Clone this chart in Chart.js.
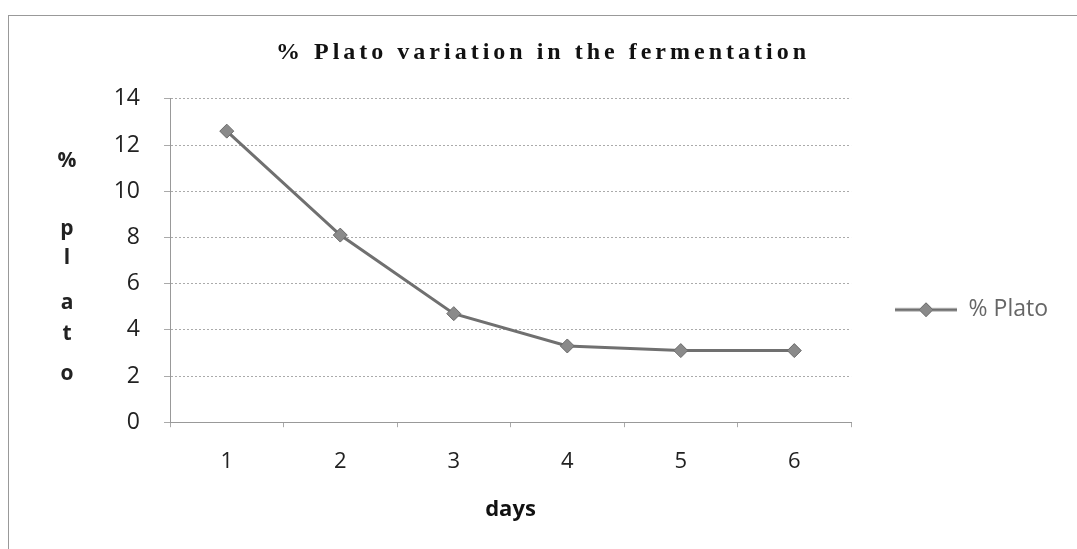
<!DOCTYPE html>
<html lang="en">
    <head>
        <meta charset="UTF-8">
        <title>% Plato variation in the fermentation</title>
        <script src="https://cdn.jsdelivr.net/npm/chart.js"></script>
        <style>
            body { margin: 0; background: #fff; }
            #frame {
                position: absolute; left: 8px; top: 15px;
                width: 1069px; height: 534px;
                border-left: 1px solid #999; border-top: 1px solid #999;
            }
        </style>
    </head>
    <body>
        <div id="frame"><canvas id="platoChart" width="1069" height="534"></canvas></div>

        <script>
            const days = ['1', '2', '3', '4', '5', '6'];
            const plato = [12.6, 8.1, 4.7, 3.3, 3.1, 3.1];
            const yLetters = ['%', 'p', 'l', 'a', 't', 'o'];

            // legend sample: line with a diamond in the middle
            const legendIcon = document.createElement('canvas');
            legendIcon.width = 62; legendIcon.height = 16;
            const ic = legendIcon.getContext('2d');
            ic.strokeStyle = '#707070'; ic.lineWidth = 3;
            ic.beginPath(); ic.moveTo(0, 8); ic.lineTo(62, 8); ic.stroke();
            ic.fillStyle = '#8a8a8a'; ic.strokeStyle = '#6a6a6a'; ic.lineWidth = 1;
            ic.beginPath(); ic.moveTo(31, 1); ic.lineTo(38, 8); ic.lineTo(31, 15); ic.lineTo(24, 8); ic.closePath();
            ic.fill(); ic.stroke();

            // y axis title written as a column of letters
            const stackedYTitle = {
                id: 'stackedYTitle',
                afterDraw(chart) {
                    const c = chart.ctx;
                    c.save();
                    c.font = 'bold 21px "Open Sans"';
                    c.fillStyle = '#222';
                    c.textAlign = 'center';
                    c.textBaseline = 'middle';
                    const ys = [145, 213, 242, 287, 318, 358];
                    yLetters.forEach((l, i) => c.fillText(l, 58, ys[i]));
                    c.restore();
                }
            };

            // wider letter spacing for the chart title
            const spacedTitle = {
                id: 'spacedTitle',
                beforeDraw(chart) {
                    const tb = chart.titleBlock;
                    if (!tb || tb._spaced) return;
                    const orig = tb.draw.bind(tb);
                    tb.draw = function (area) {
                        const c = chart.ctx;
                        const prev = c.letterSpacing;
                        c.letterSpacing = '4px';
                        orig(area);
                        c.letterSpacing = prev;
                    };
                    tb._spaced = true;
                }
            };

            const ctx = document.getElementById('platoChart').getContext('2d');
            new Chart(ctx, {
                type: 'line',
                data: {
                    labels: days,
                    datasets: [{
                        label: '% Plato',
                        data: plato,
                        borderColor: '#707070',
                        borderWidth: 3,
                        pointStyle: 'rectRot',
                        pointRadius: 7,
                        pointHoverRadius: 7,
                        pointBackgroundColor: '#8a8a8a',
                        pointBorderColor: '#6a6a6a',
                        pointBorderWidth: 1,
                        tension: 0
                    }]
                },
                plugins: [stackedYTitle, spacedTitle],
                options: {
                    responsive: false,
                    animation: false,
                    layout: { padding: { left: 19, right: 20, top: 10, bottom: 23 } },
                    plugins: {
                        tooltip: { enabled: false },
                        title: {
                            display: true,
                            text: '% Plato variation in the fermentation',
                            color: '#111',
                            font: { family: '"Liberation Serif"', size: 24, weight: 'bold' },
                            padding: { top: 12, bottom: 32 }
                        },
                        legend: {
                            position: 'right',
                            fullSize: false,
                            title: { display: true, text: '', padding: { top: 84, bottom: 0 }, font: { size: 12 } },
                            labels: {
                                usePointStyle: true,
                                pointStyleWidth: 62,
                                padding: 44,
                                color: '#222',
                                font: { family: '"Open Sans"', size: 23 },
                                generateLabels: (chart) => [{
                                    text: '% Plato', pointStyle: legendIcon,
                                    fillStyle: '#8a8a8a', strokeStyle: '#707070', lineWidth: 0,
                                    datasetIndex: 0
                                }]
                            }
                        }
                    },
                    scales: {
                        x: {
                            offset: true,
                            grid: { display: true, offset: true, drawOnChartArea: false, tickLength: 5, color: '#aaa' },
                            border: { display: true, color: '#999', dash: [2, 2] },
                            ticks: { color: '#222', padding: 21, font: { family: '"Open Sans"', size: 22 } },
                            title: {
                                display: true, text: 'days', color: '#111',
                                font: { family: '"Open Sans"', size: 22, weight: 'bold' },
                                padding: { top: 1, bottom: 4 }
                            }
                        },
                        y: {
                            min: 0, max: 14,
                            afterFit(scale) { scale.width = 142; },
                            grid: { color: '#aaa', tickLength: 6 },
                            border: { display: true, color: '#999', dash: [2, 2] },
                            ticks: { stepSize: 2, color: '#222', padding: 24, font: { family: '"Open Sans"', size: 23 } }
                        }
                    }
                }
            });
        </script>
    </body>
</html>
